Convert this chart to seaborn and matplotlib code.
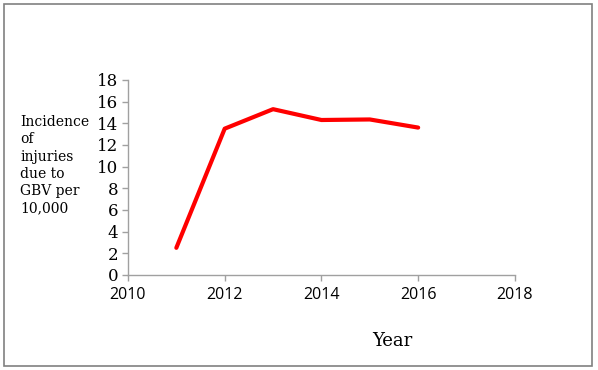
import matplotlib
matplotlib.use("Agg")
import matplotlib.pyplot as plt
import seaborn as sns
import pandas as pd
from matplotlib.patches import Rectangle

years = [2011, 2012, 2013, 2014, 2015, 2016]
incidence = [2.5, 13.5, 15.3, 14.3, 14.35, 13.6]
x_ticks = [2010, 2012, 2014, 2016, 2018]
y_ticks = [0, 2, 4, 6, 8, 10, 12, 14, 16, 18]

df = pd.DataFrame({"Year": years, "Incidence": incidence})

sns.set_theme(style="white")
fig = plt.figure(figsize=(5.98, 3.70), dpi=100)
ax = fig.add_axes([0.214, 0.257, 0.647, 0.527])
sns.lineplot(data=df, x="Year", y="Incidence", ax=ax, color="#ff0000", linewidth=3)

ax.set_xlim(2010, 2018)
ax.set_ylim(0, 18)
ax.set_xticks(x_ticks)
ax.set_yticks(y_ticks)
ax.set_xticklabels([str(t) for t in x_ticks], fontfamily="Open Sans", fontsize=11.5)
ax.set_yticklabels([str(t) for t in y_ticks], fontfamily="DejaVu Serif", fontsize=12)
ax.set_xlabel("")
ax.set_ylabel("")
for s in ["top", "right"]:
    ax.spines[s].set_visible(False)
for s in ["left", "bottom"]:
    ax.spines[s].set_color("#a0a0a0")
    ax.spines[s].set_linewidth(1)
ax.tick_params(axis="both", which="both", direction="out", length=4, width=1,
               color="#a0a0a0", left=True, bottom=True, labelcolor="black")
ax.tick_params(axis="x", pad=5)
ax.tick_params(axis="y", pad=3)

fig.text(20 / 598, 1 - 115 / 370, "Incidence\nof\ninjuries\ndue to\nGBV per\n10,000",
         ha="left", va="top", fontfamily="DejaVu Serif", fontsize=10, linespacing=1.3,
         color="black")
fig.text(392 / 598, 1 - 341 / 370, "Year", ha="center", va="center",
         fontfamily="DejaVu Serif", fontsize=13, color="black")

fig.patches.append(Rectangle((4 / 598, 4 / 370), 588 / 598, 362 / 370,
                             transform=fig.transFigure, fill=False,
                             edgecolor="#808080", linewidth=1.2))
fig.savefig("out.png", dpi=100)
